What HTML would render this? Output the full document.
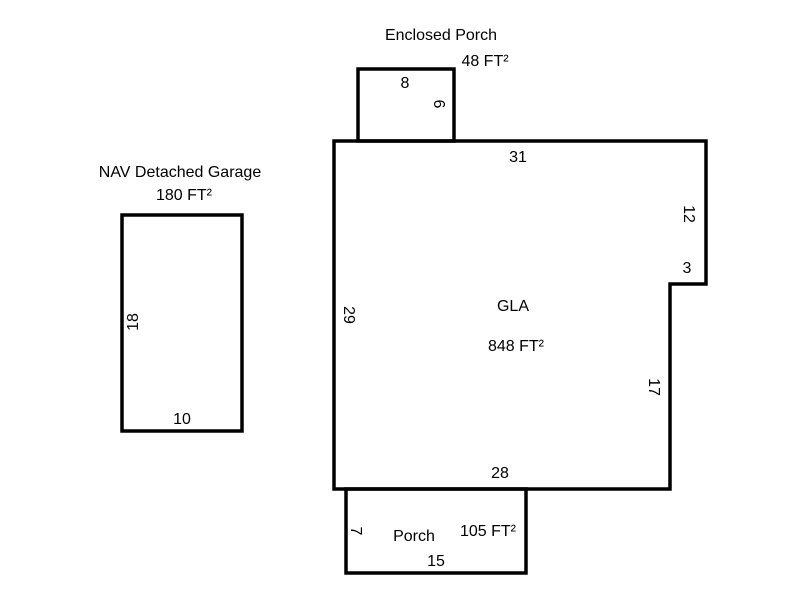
<!DOCTYPE html>
<html><head><style>body{margin:0;background:#fff}svg text{font-family:"Liberation Sans",Arial,sans-serif;font-size:16px;fill:#000}</style></head>
<body>
<svg width="800" height="600" xmlns="http://www.w3.org/2000/svg">
<g fill="none" stroke="#000" stroke-width="3.5">
<polygon points="334,141 706,141 706,284 670,284 670,489 334,489"/>
<rect x="358" y="69" width="96" height="72"/>
<rect x="122" y="215" width="120" height="216"/>
<rect x="346" y="489" width="180" height="84"/>
</g>
<text x="441" y="40" text-anchor="middle">Enclosed Porch</text>
<text x="485" y="66" text-anchor="middle">48 FT²</text>
<text x="405" y="88" text-anchor="middle">8</text>
<text transform="translate(434,104) rotate(90)" text-anchor="middle">6</text>
<text x="518" y="162" text-anchor="middle">31</text>
<text transform="translate(684,214) rotate(90)" text-anchor="middle">12</text>
<text x="687" y="273" text-anchor="middle">3</text>
<text transform="translate(344,315) rotate(90)" text-anchor="middle">29</text>
<text x="513" y="311" text-anchor="middle">GLA</text>
<text x="516" y="351" text-anchor="middle">848 FT²</text>
<text transform="translate(649,387) rotate(90)" text-anchor="middle">17</text>
<text x="500" y="478" text-anchor="middle">28</text>
<text transform="translate(351,531) rotate(90)" text-anchor="middle">7</text>
<text x="414" y="541" text-anchor="middle">Porch</text>
<text x="488" y="536" text-anchor="middle">105 FT²</text>
<text x="436" y="566" text-anchor="middle">15</text>
<text x="180" y="177" text-anchor="middle">NAV Detached Garage</text>
<text x="184" y="200" text-anchor="middle">180 FT²</text>
<text transform="translate(138,322) rotate(-90)" text-anchor="middle">18</text>
<text x="182" y="424" text-anchor="middle">10</text>
</svg>
</body></html>
